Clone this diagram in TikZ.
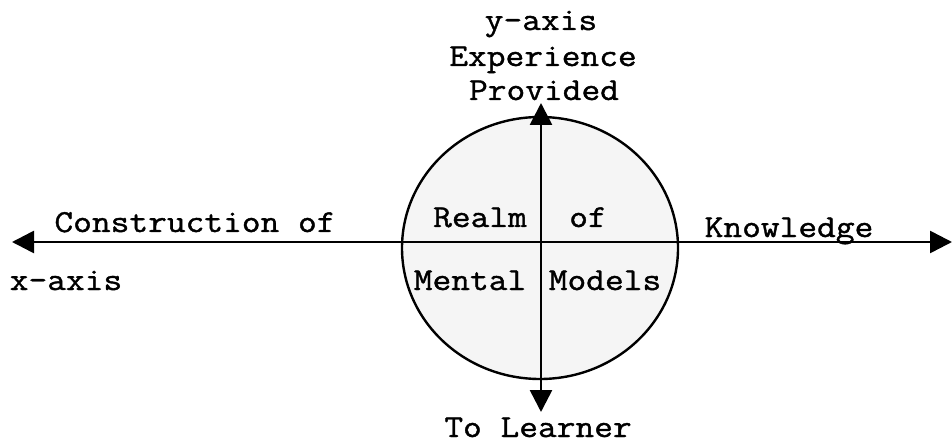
\documentclass[tikz,border=0pt]{standalone}
\usepackage{fontspec}
\setmainfont[FakeStretch=1.137,FakeBold=1.2]{Latin Modern Mono}
\usetikzlibrary{arrows.meta,shapes.geometric}
\begin{document}
\begin{tikzpicture}[x=1pt,y=-1pt,
  lbl/.style={anchor=base,inner sep=0pt,font=\fontsize{32}{35}\selectfont},
  axisline/.style={line width=2.6pt,{Triangle[length=22pt,width=22pt]}-{Triangle[length=22pt,width=22pt]}},
  realm/.style={draw,line width=2.4pt,ellipse,fill=black!4,minimum width=276pt,minimum height=262pt,inner sep=0pt}]
\useasboundingbox (0,0) rectangle (952,446);
\node[realm] (circ) at (540,248) {};
\coordinate (L) at (12,242);
\coordinate (R) at (952,242);
\coordinate (T) at (541,103);
\coordinate (B) at (541,412);
\draw[axisline] (L) -- (R);
\draw[axisline] (B) -- (T);
\node[lbl] (ya) at (541,30) {y-axis};
\node[lbl] (exp) at (543,66) {Experience};
\node[lbl] (prov) at (544,100) {Provided};
\node[lbl] (cons) at (195,232) {Construction of};
\node[lbl] (know) at (789,237) {Knowledge};
\node[lbl] (xa) at (66,290) {x-axis};
\node[lbl] (realm) at (480,227) {Realm};
\node[lbl] (of) at (588,227) {of};
\node[lbl] (mental) at (470,290) {Mental};
\node[lbl] (models) at (605,290) {Models};
\node[lbl] (learner) at (538,437) {To Learner};
\end{tikzpicture}
\end{document}
